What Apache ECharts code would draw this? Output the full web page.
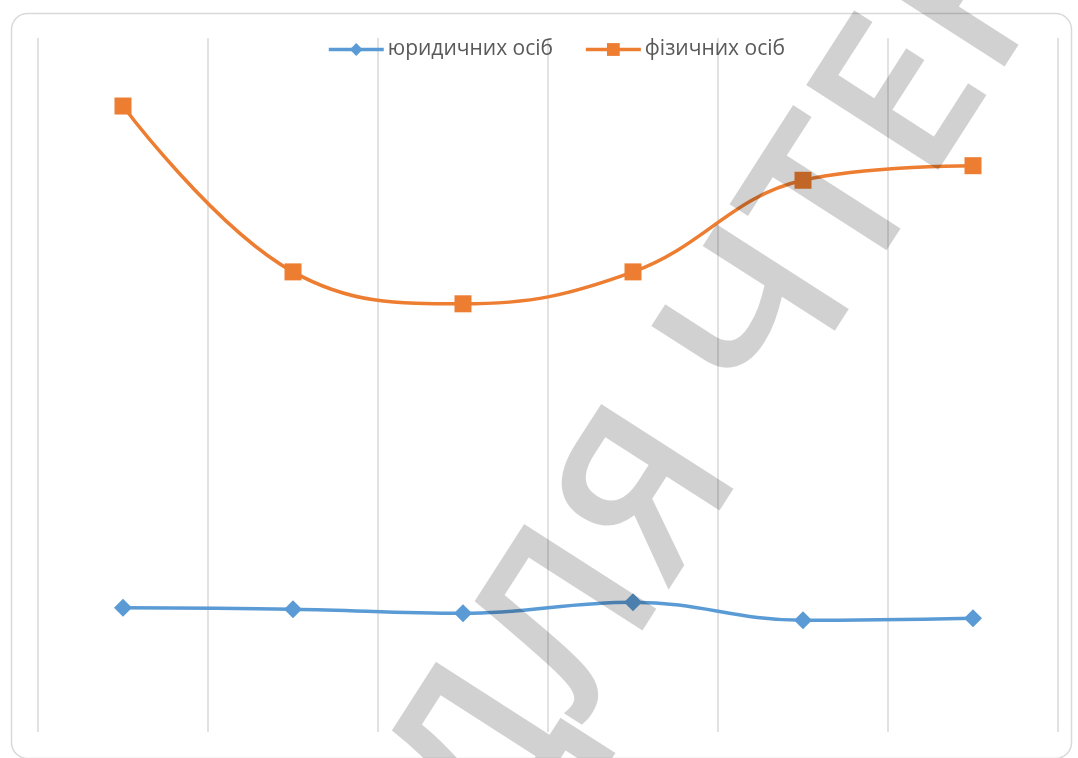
<!DOCTYPE html>
<html>
<head>
<meta charset="utf-8">
<script src="https://cdn.jsdelivr.net/npm/echarts@6/dist/echarts.min.js"></script>
<style>html,body{margin:0;padding:0;background:#fff}#c{width:1078px;height:758px}</style>
</head>
<body>
<div id="c"></div>
<script>
const categories = ['1', '2', '3', '4', '5', '6'];
const legalEntities = [17.9, 17.7, 17.1, 18.7, 16.1, 16.4];
const individuals = [90.2, 66.3, 61.7, 66.3, 79.5, 81.6];
const seriesNames = ['юридичних осіб', 'фізичних осіб'];
const watermarkText = 'ДЛЯ ЧТЕНИЯ';

const chart = echarts.init(document.getElementById('c'));
chart.setOption({
  animation: false,
  backgroundColor: '#fff',
  textStyle: { fontFamily: 'Open Sans, Liberation Sans, sans-serif' },
  legend: {
    top: 34, left: 322, itemWidth: 55, itemHeight: 16, itemGap: 31,
    lineStyle: { width: 3.5 },
    textStyle: { color: '#595959', fontSize: 21, fontFamily: 'Open Sans, Liberation Sans, sans-serif', padding: [0, 0, 0, -1] },
    data: seriesNames
  },
  grid: { left: 38, right: 20, top: 38, bottom: 26 },
  xAxis: {
    type: 'category', data: categories, boundaryGap: true,
    axisLine: { show: false }, axisTick: { show: false }, axisLabel: { show: false },
    splitLine: { show: true, lineStyle: { color: '#d9d9d9', width: 1.5 } }
  },
  yAxis: {
    type: 'value', min: 0, max: 100,
    axisLine: { show: false }, axisTick: { show: false }, axisLabel: { show: false },
    splitLine: { show: false }
  },
  series: [
    {
      name: seriesNames[0], type: 'line', data: legalEntities, smooth: 0.4,
      symbol: 'diamond', symbolSize: 18,
      lineStyle: { color: '#5B9BD5', width: 3.5 }, itemStyle: { color: '#5B9BD5' }
    },
    {
      name: seriesNames[1], type: 'line', data: individuals, smooth: 0.4,
      symbol: 'rect', symbolSize: 17,
      lineStyle: { color: '#ED7D31', width: 3.5 }, itemStyle: { color: '#ED7D31' }
    }
  ],
  graphic: [
    {
      type: 'rect', left: 9, top: 11, z: -1,
      shape: { width: 1060, height: 745, r: 16 },
      style: { fill: 'none', stroke: '#d9d9d9', lineWidth: 1.5 }
    },
    {
      type: 'text', x: 822, y: 235, rotation: 1.0, z: 100,
      style: {
        text: watermarkText, fill: 'rgba(0,0,0,0.18)',
        font: '600 220px "Open Sans"', align: 'center', verticalAlign: 'middle'
      }
    }
  ]
});
</script>
</body>
</html>
